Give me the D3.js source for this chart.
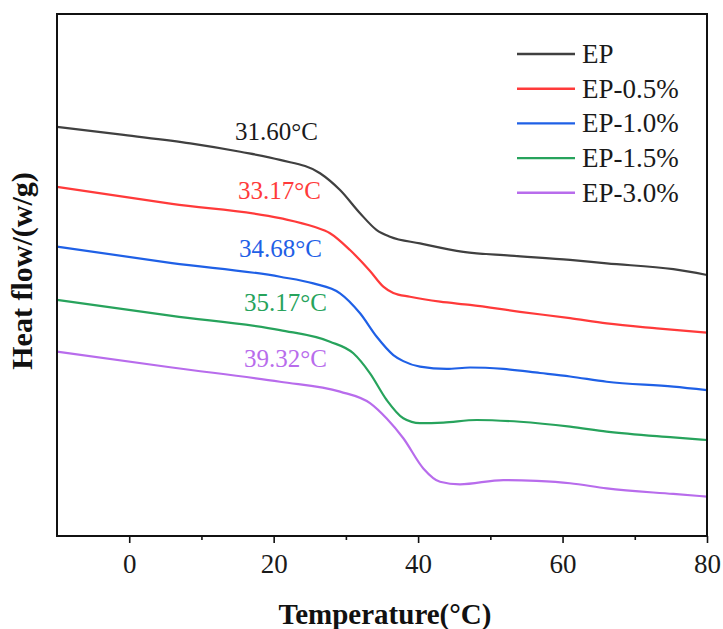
<!DOCTYPE html>
<html>
<head>
<meta charset="utf-8">
<script src="https://cdn.jsdelivr.net/npm/d3@7"></script>
<style>
  html, body { margin: 0; padding: 0; background: #fff; }
  svg { display: block; font-family: "Liberation Serif", "Times New Roman", serif; }
</style>
</head>
<body>
<svg id="chart" width="723" height="629"></svg>
<script>
// DSC heat-flow curves, temperature in °C, heat flow in W/g (curves offset for clarity)
const seriesNames = ["EP", "EP-0.5%", "EP-1.0%", "EP-1.5%", "EP-3.0%"];
const seriesColors = ["#404040", "#ff3a3a", "#1f60e6", "#27a35c", "#b86cec"];
const tgLabels = ["31.60°C", "33.17°C", "34.68°C", "35.17°C", "39.32°C"];

const epTemp = [-10, -0.76, 8.46, 15.38, 20.88, 26.42, 29.19, 31.96, 34.27, 36.11, 40.26, 46.26, 52.73, 61.04, 66.11, 75.34, 80];
const epFlow = [-0.189, -0.217, -0.246, -0.275, -0.303, -0.349, -0.407, -0.487, -0.545, -0.568, -0.591, -0.620, -0.633, -0.648, -0.660, -0.680, -0.700];

const ep05Temp = [-10, 5.92, 20.88, 25.49, 27.80, 30.57, 33.34, 35.18, 36.57, 38.88, 43.03, 47.19, 54.11, 61.04, 66.11, 73.04, 80];
const ep05Flow = [-0.396, -0.455, -0.504, -0.533, -0.556, -0.614, -0.686, -0.740, -0.762, -0.775, -0.792, -0.803, -0.827, -0.849, -0.867, -0.884, -0.899];

const ep10Temp = [-10, 5.92, 20.88, 25.49, 29.19, 31.96, 34.27, 36.57, 37.95, 40.26, 43.96, 47.19, 51.80, 56.88, 61.04, 66.11, 75.34, 80];
const ep10Flow = [-0.602, -0.659, -0.706, -0.729, -0.763, -0.832, -0.913, -0.976, -0.997, -1.016, -1.024, -1.019, -1.024, -1.038, -1.050, -1.068, -1.085, -1.097];

const ep15Temp = [-10, 5.92, 20.88, 27.80, 31.03, 33.34, 35.65, 37.95, 40.26, 43.50, 48.11, 54.11, 61.04, 66.11, 75.34, 80];
const ep15Flow = [-0.786, -0.841, -0.890, -0.930, -0.970, -1.039, -1.131, -1.194, -1.211, -1.209, -1.200, -1.206, -1.223, -1.240, -1.260, -1.269];

const ep30Temp = [-10, 5.92, 20.88, 29.19, 33.34, 35.65, 37.95, 40.72, 43.03, 45.80, 51.80, 56.42, 61.04, 66.11, 75.34, 80];
const ep30Flow = [-0.964, -1.019, -1.068, -1.102, -1.142, -1.195, -1.263, -1.367, -1.413, -1.422, -1.407, -1.410, -1.418, -1.436, -1.455, -1.464];

const majorTicks = [0, 20, 40, 60, 80];
const minorTicks = [10, 30, 50, 70];

const temps = [epTemp, ep05Temp, ep10Temp, ep15Temp, ep30Temp];
const flows = [epFlow, ep05Flow, ep10Flow, ep15Flow, ep30Flow];
const series = seriesNames.map((name, i) => ({
  name,
  color: seriesColors[i],
  label: tgLabels[i],
  points: temps[i].map((t, j) => ({ t, v: flows[i][j] }))
}));

const svg = d3.select("#chart");
const margin = { left: 57, top: 14, right: 16, bottom: 93 };
const W = 723, H = 629;
const plotW = W - margin.left - margin.right;
const plotH = H - margin.top - margin.bottom;

const x = d3.scaleLinear().domain([-10, 80]).range([margin.left, margin.left + plotW]);
const y = d3.scaleLinear().domain([-1.6, 0.2]).range([margin.top + plotH, margin.top]);

const line = d3.line()
  .x(d => x(d.t))
  .y(d => y(d.v))
  .curve(d3.curveMonotoneX);

// curves
const plot = svg.append("g");
plot.selectAll("path.curve")
  .data(series)
  .join("path")
  .attr("class", "curve")
  .attr("fill", "none")
  .attr("stroke", d => d.color)
  .attr("stroke-width", 2.2)
  .attr("stroke-linejoin", "round")
  .attr("d", d => line(d.points));

// glass-transition temperature labels
const labelPos = [
  { t: 14.65, v: -0.234 },
  { t: 15.06, v: -0.438 },
  { t: 15.2, v: -0.638 },
  { t: 15.9, v: -0.824 },
  { t: 15.9, v: -1.017 }
];
plot.selectAll("text.tg")
  .data(series)
  .join("text")
  .attr("class", "tg")
  .attr("x", (d, i) => x(labelPos[i].t))
  .attr("y", (d, i) => y(labelPos[i].v))
  .attr("font-size", 25)
  .attr("fill", d => d.color === "#404040" ? "#1a1a1a" : d.color)
  .text(d => d.label);

// x axis with major and minor ticks
const xAxis = svg.append("g")
  .attr("transform", `translate(0,${margin.top + plotH})`)
  .call(d3.axisBottom(x).tickValues(majorTicks).tickSize(7).tickPadding(11).tickFormat(d3.format("d")));
xAxis.select(".domain").remove();
xAxis.selectAll(".tick line").attr("stroke", "#111").attr("stroke-width", 1.6);
xAxis.selectAll(".tick text")
  .attr("font-family", "Liberation Serif, serif")
  .attr("font-size", 27)
  .attr("fill", "#1a1a1a");

const xMinor = svg.append("g")
  .attr("transform", `translate(0,${margin.top + plotH})`)
  .call(d3.axisBottom(x).tickValues(minorTicks).tickSize(4).tickFormat(""));
xMinor.select(".domain").remove();
xMinor.selectAll(".tick line").attr("stroke", "#111").attr("stroke-width", 1.6);

// frame
svg.append("rect")
  .attr("x", margin.left)
  .attr("y", margin.top)
  .attr("width", plotW)
  .attr("height", plotH)
  .attr("fill", "none")
  .attr("stroke", "#111")
  .attr("stroke-width", 2);

// axis titles
svg.append("text")
  .attr("x", margin.left + plotW / 2 + 3)
  .attr("y", 624)
  .attr("text-anchor", "middle")
  .attr("font-weight", "bold")
  .attr("font-size", 29)
  .attr("fill", "#111")
  .text("Temperature(°C)");

svg.append("text")
  .attr("transform", `translate(32,${271}) rotate(-90)`)
  .attr("text-anchor", "middle")
  .attr("font-weight", "bold")
  .attr("font-size", 30)
  .attr("fill", "#111")
  .text("Heat flow/(w/g)");

// legend
const legend = svg.append("g").attr("transform", "translate(517,54)");
const rows = legend.selectAll("g.row")
  .data(series)
  .join("g")
  .attr("class", "row")
  .attr("transform", (d, i) => `translate(0,${i * 34.7})`);
rows.append("line")
  .attr("x1", 0).attr("x2", 58)
  .attr("y1", 0).attr("y2", 0)
  .attr("stroke", d => d.color)
  .attr("stroke-width", 2.4);
rows.append("text")
  .attr("x", 65)
  .attr("y", 9)
  .attr("font-size", 27)
  .attr("fill", "#1a1a1a")
  .text(d => d.name);
</script>
</body>
</html>
